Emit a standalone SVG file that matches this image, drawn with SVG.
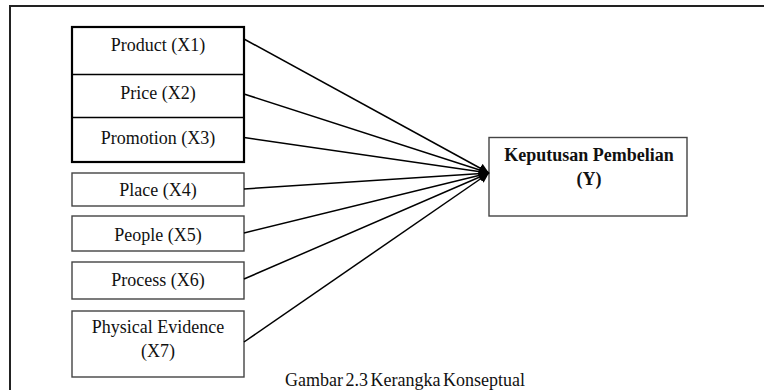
<svg xmlns="http://www.w3.org/2000/svg" width="764" height="390" viewBox="0 0 764 390">
<style>
text{font-family:"Liberation Serif","Times New Roman",serif;font-size:18px;fill:#111;text-anchor:middle}
.bold{font-weight:bold}
.thick{fill:#fff;stroke:#000;stroke-width:2.2}
.thin{fill:#fff;stroke:#444;stroke-width:1.4}
.div{stroke:#000;stroke-width:1.4}
.conn{stroke:#000;stroke-width:1.5;fill:none;marker-end:url(#arr)}
.frame{stroke:#222;stroke-width:2;fill:none}
</style>
<defs>
<marker id="arr" markerUnits="userSpaceOnUse" markerWidth="12" markerHeight="12" refX="10" refY="5" orient="auto">
<path d="M0,0 L10,5 L0,10 z" fill="#000"/>
</marker>
</defs>
<path class="frame" d="M10,390 L10,6 L764,6"/>
<g id="group-x1-x3">
<rect class="thick" x="72" y="27" width="172" height="135"/>
<line class="div" x1="72" y1="74.5" x2="244" y2="74.5"/>
<line class="div" x1="72" y1="117.5" x2="244" y2="117.5"/>
</g>
<g id="x1"><text x="158" y="51">Product (X1)</text></g>
<g id="x2"><text x="158" y="99">Price (X2)</text></g>
<g id="x3"><text x="158" y="144">Promotion (X3)</text></g>
<g id="x4"><rect class="thin" x="72" y="173" width="172" height="33"/><text x="158" y="196">Place (X4)</text></g>
<g id="x5"><rect class="thin" x="72" y="216" width="172" height="35"/><text x="158" y="241">People (X5)</text></g>
<g id="x6"><rect class="thin" x="72" y="262" width="172" height="37"/><text x="158" y="286">Process (X6)</text></g>
<g id="x7"><rect class="thin" x="72" y="311" width="172" height="66"/><text x="158" y="333">Physical Evidence</text><text x="158" y="357">(X7)</text></g>
<g id="y"><rect class="thin" x="489" y="137.5" width="198" height="78.5"/><text class="bold" x="589" y="161">Keputusan Pembelian</text><text class="bold" x="589" y="185">(Y)</text></g>
<g id="connectors">
<line class="conn" x1="244" y1="39" x2="489" y2="173"/>
<line class="conn" x1="244" y1="94" x2="489" y2="173"/>
<line class="conn" x1="244" y1="137.5" x2="489" y2="173"/>
<line class="conn" x1="244" y1="189" x2="489" y2="173"/>
<line class="conn" x1="244" y1="233" x2="489" y2="173"/>
<line class="conn" x1="244" y1="279" x2="489" y2="173"/>
<line class="conn" x1="244" y1="342" x2="489" y2="173"/>
</g>
<text x="405" y="386" word-spacing="-2">Gambar 2.3 Kerangka Konseptual</text>
</svg>
